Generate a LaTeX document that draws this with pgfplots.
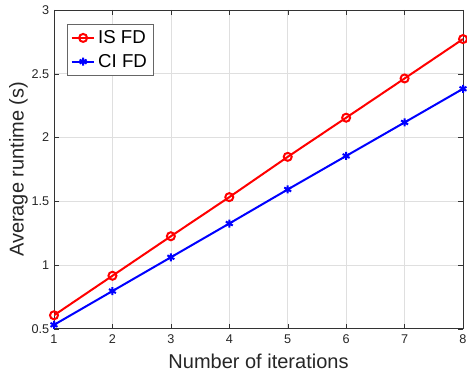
\documentclass[border=0pt]{standalone}
\usepackage{pgfplots}
\pgfplotsset{compat=1.18}
\usepackage{fontspec}
\setmainfont{Liberation Sans}
\begin{document}
\begin{tikzpicture}
\begin{axis}[
  scale only axis,
  width=306.75pt, height=239pt,
  xmin=1, xmax=8, ymin=0.5, ymax=3,
  xtick={1,2,...,8},
  ytick={0.5,1,1.5,2,2.5,3},
  yticklabels={0.5,1,1.5,2,2.5,3},
  xmajorgrids, ymajorgrids,
  grid style={gray!25, line width=0.4pt},
  axis line style={black!80, line width=0.5pt},
  tick style={black!80},
  tick align=inside,
  major tick length=3.5pt,
  /pgf/number format/assume math mode=true,
  tick label style={font=\fontsize{9.5}{11}\selectfont, text=black!85},
  xticklabel style={yshift=-1pt},
  label style={font=\fontsize{15}{17}\selectfont, text=black!85},
  xlabel={Number of iterations},
  ylabel={Average runtime (s)},
  xlabel style={yshift=-1pt},
  ylabel style={yshift=-4pt},
  legend style={at={(rel axis cs:0,1)}, anchor=north west, xshift=9.75pt, yshift=-10.5pt,
    font=\fontsize{14}{16}\selectfont, draw=black!60, line width=0.6pt,
    row sep=2.5pt, inner sep=2.5pt},
  legend cell align=left,
]
\coordinate (sw) at (rel axis cs:0,0);
\coordinate (ne) at (rel axis cs:1,1);
\addplot[red, line width=1.5pt, mark=o, mark size=3pt, mark options={line width=1.5pt}]
  coordinates {(1,0.605) (2,0.915) (3,1.225) (4,1.532) (5,1.848) (6,2.155) (7,2.463) (8,2.772)};
\addlegendentry{IS FD}
\addplot[blue, line width=1.5pt, mark=asterisk, mark size=3pt, mark options={line width=1.5pt}]
  coordinates {(1,0.53) (2,0.795) (3,1.06) (4,1.325) (5,1.592) (6,1.855) (7,2.118) (8,2.382)};
\addlegendentry{CI FD}
\end{axis}
\pgfresetboundingbox
\path ([xshift=-40.5pt,yshift=-34pt]sw) rectangle ([xshift=3pt,yshift=7.5pt]ne);
\end{tikzpicture}
\end{document}
